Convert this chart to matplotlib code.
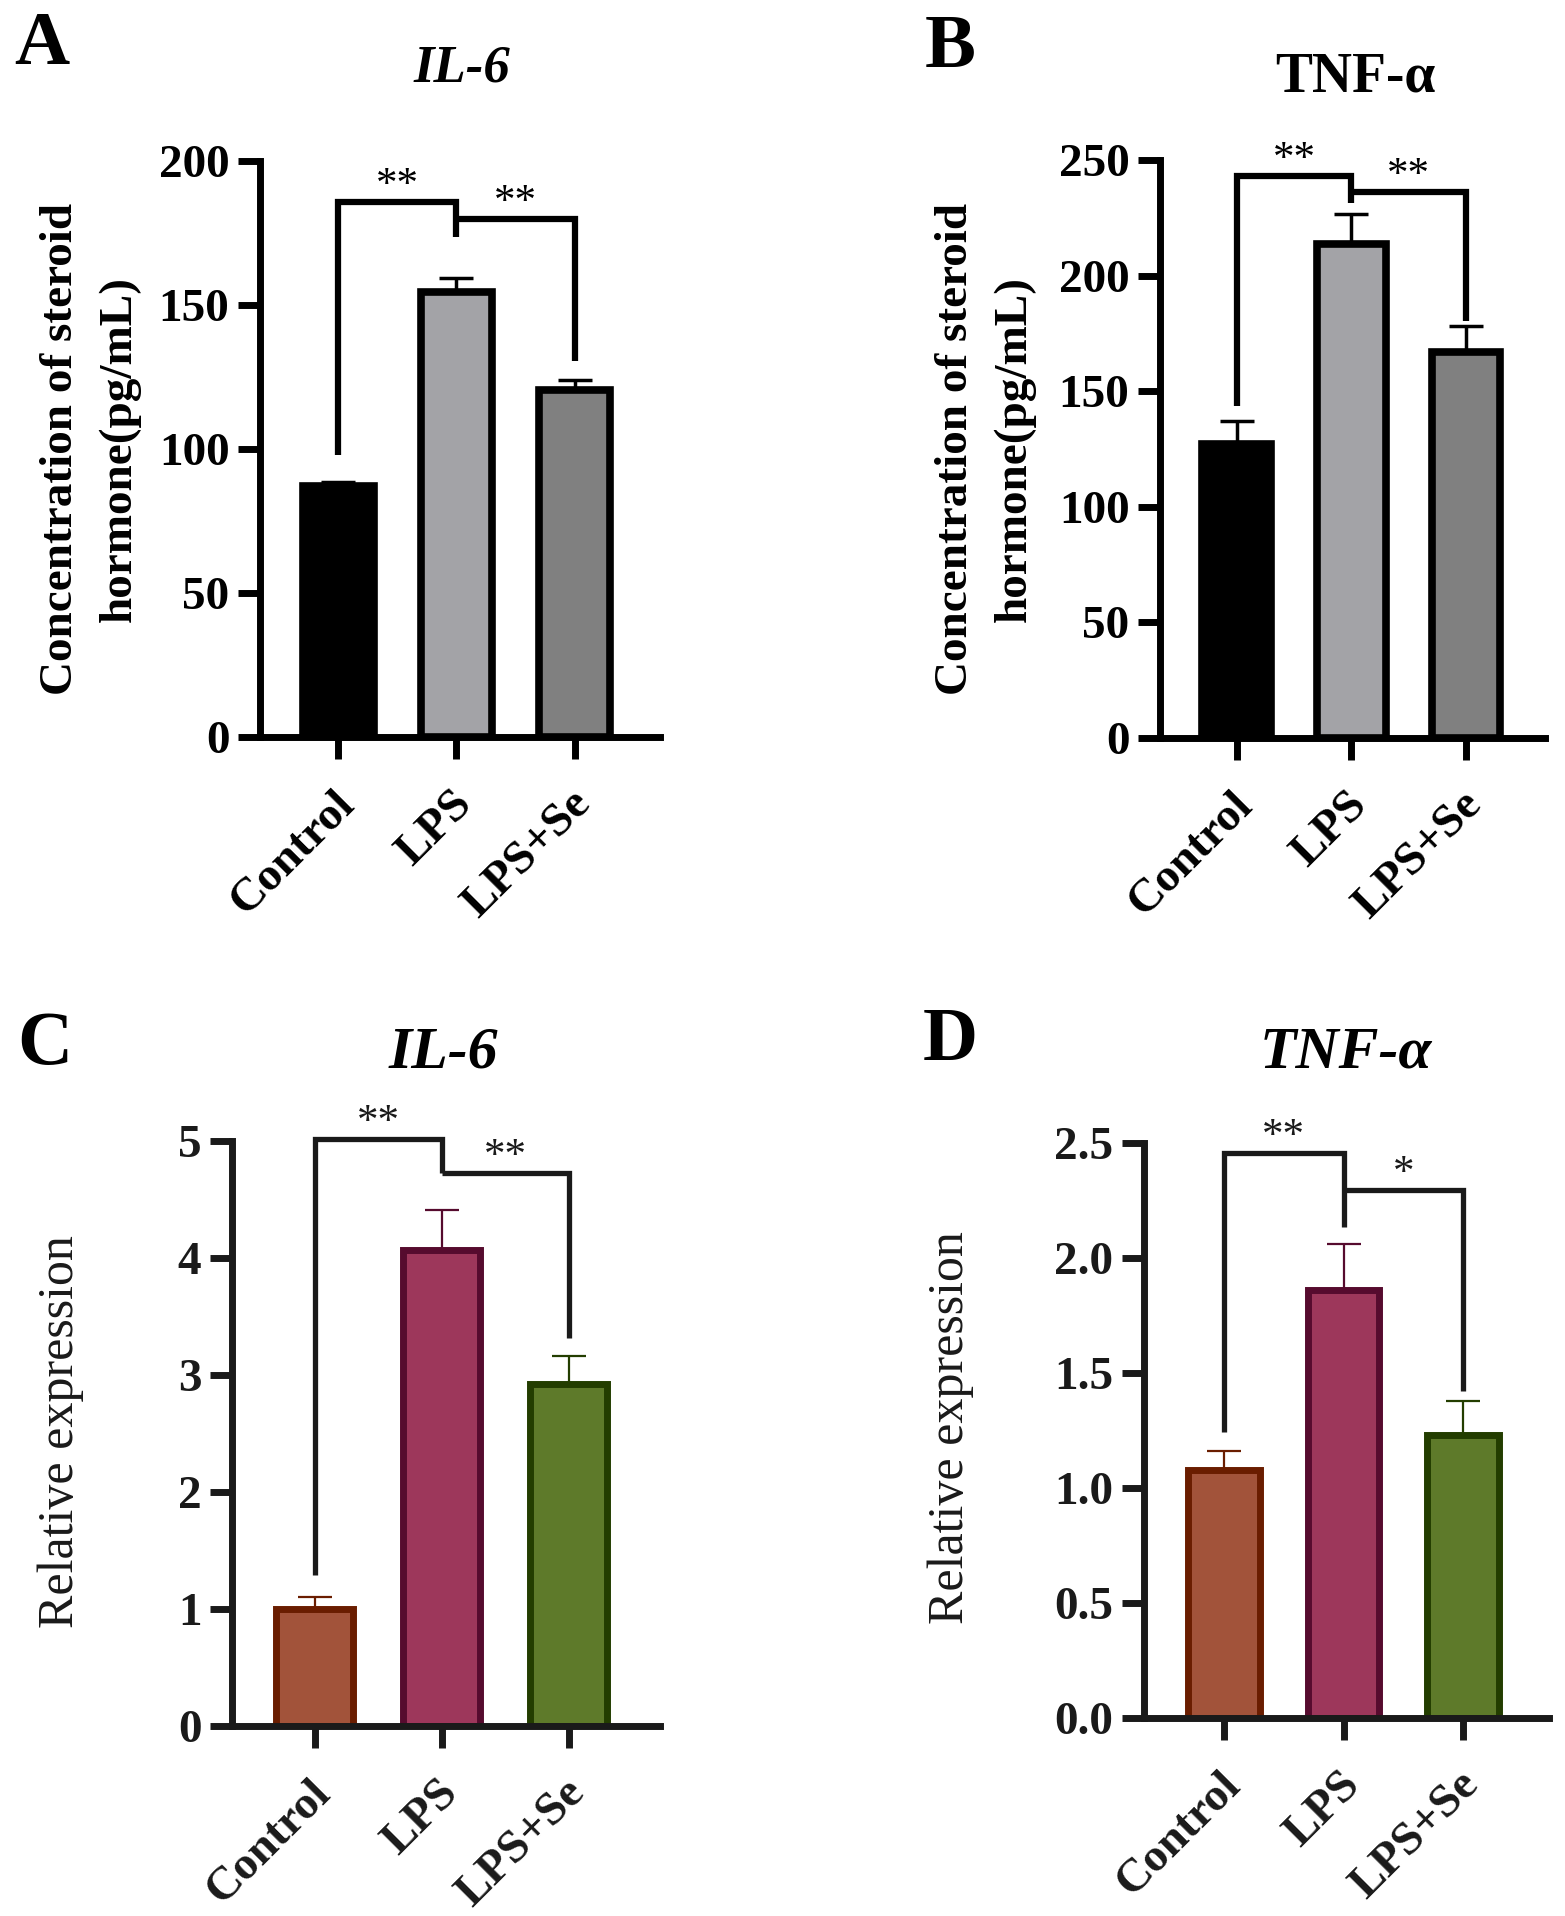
import matplotlib
matplotlib.use("Agg")
import matplotlib.pyplot as plt
from matplotlib.transforms import ScaledTranslation

plt.rcParams['font.family'] = ['Liberation Serif', 'DejaVu Serif']

# data
groups = ["Control", "LPS", "LPS+Se"]

il6_conc = [87.0, 154.5, 120.5]
il6_conc_err = [1.5, 5.0, 3.3]

tnf_conc = [127.0, 213.5, 167.0]
tnf_conc_err = [10.0, 13.0, 11.0]

il6_rel = [1.0, 4.07, 2.92]
il6_rel_err = [0.1, 0.34, 0.24]

tnf_rel = [1.08, 1.86, 1.23]
tnf_rel_err = [0.08, 0.20, 0.15]

# significance brackets: (left leg bottom, top, right leg bottom) and the 2nd bracket (level, right leg bottom)
sig_a = [(97.9, 185.9, 173.7), (180.0, 130.5)]
sig_b = [(143.8, 242.9, 231.6), (236.1, 180.5)]
sig_c = [(1.29, 5.02, 4.73), (4.73, 3.32)]
sig_d = [(1.242, 2.455, 2.136), (2.296, 1.42)]
stars_a = ["**", "**"]
stars_b = ["**", "**"]
stars_c = ["**", "**"]
stars_d = ["**", "*"]

W, H = 1565, 1916
fig = plt.figure(figsize=(W / 100, H / 100), dpi=100)


def px_axes(left, top, right, bottom):
    return fig.add_axes([left / W, 1 - bottom / H, (right - left) / W, (bottom - top) / H])


def fig_text(x, y, s, **kw):
    fig.text(x / W, 1 - y / H, s, **kw)


def panel(ax, vals, errs, fills, edges, errcols, ymax, yticks, yticklabels, xlim,
          sig, stars, axcol, bar_lw, err_lw, br_lw):
    x = range(len(vals))
    ax.bar(x, vals, width=0.6, color=fills, edgecolor=edges, linewidth=bar_lw, zorder=2)
    for i in x:
        ax.errorbar(i, vals[i], yerr=[[0], [errs[i]]], fmt='none', ecolor=errcols[i],
                    elinewidth=err_lw, capsize=12, capthick=err_lw, zorder=3)
    ax.set_xlim(*xlim)
    ax.set_ylim(0, ymax)
    ax.set_yticks(yticks)
    ax.set_yticklabels(yticklabels)
    ax.set_xticks(list(x))
    ax.set_xticklabels(groups, rotation=45, ha='right', va='top', rotation_mode='anchor')
    for s in ['top', 'right']:
        ax.spines[s].set_visible(False)
    for s in ['left', 'bottom']:
        ax.spines[s].set_linewidth(5)
        ax.spines[s].set_color(axcol)
        ax.spines[s].set_capstyle('projecting')
    ax.tick_params(axis='both', length=16, width=5, color=axcol, labelcolor=axcol,
                   labelsize=34)
    ax.tick_params(axis='y', pad=6)
    ax.tick_params(axis='x', pad=17)
    for lab in ax.get_xticklabels() + ax.get_yticklabels():
        lab.set_fontweight('bold')
    for lab in ax.get_xticklabels():
        lab.set_transform(lab.get_transform() + ScaledTranslation(-0.05, 0, fig.dpi_scale_trans))

    (lb, top1, rb1), (lvl2, rb2) = sig
    kw = dict(color=axcol, lw=br_lw, clip_on=False, solid_joinstyle='miter',
              solid_capstyle='butt', zorder=4)
    ax.plot([0, 0, 1, 1], [lb, top1, top1, rb1], **kw)
    ax.plot([1, 2, 2], [lvl2, lvl2, rb2], **kw)
    off = ScaledTranslation(0, 0.06, fig.dpi_scale_trans)
    ax.text(0.5, top1, stars[0], ha='center', va='baseline', fontsize=31, color=axcol,
            transform=ax.transData + off, clip_on=False)
    ax.text(1.5, lvl2, stars[1], ha='center', va='baseline', fontsize=31, color=axcol,
            transform=ax.transData + off, clip_on=False)


gray_fill = ['#000000', '#a3a3a7', '#808080']
gray_edge = ['#000000', '#000000', '#000000']
col_fill = ['#a2533a', '#9d375b', '#5e7a2a']
col_edge = ['#6a1d00', '#560b2e', '#233d00']
dark = '#1a1a1a'

axA = px_axes(260, 161, 660, 737)
panel(axA, il6_conc, il6_conc_err, gray_fill, gray_edge, gray_edge, 200,
      [0, 50, 100, 150, 200], ['0', '50', '100', '150', '200'], (-0.66, 2.72),
      sig_a, stars_a, 'black', 5.5, 2.5, 4.5)

axB = px_axes(1160, 160, 1545, 738)
panel(axB, tnf_conc, tnf_conc_err, gray_fill, gray_edge, gray_edge, 250,
      [0, 50, 100, 150, 200, 250], ['0', '50', '100', '150', '200', '250'], (-0.67, 2.69),
      sig_b, stars_b, 'black', 5.5, 2.5, 4.5)

axC = px_axes(232, 1141, 660, 1726)
panel(axC, il6_rel, il6_rel_err, col_fill, col_edge, col_edge, 5,
      [0, 1, 2, 3, 4, 5], ['0', '1', '2', '3', '4', '5'], (-0.65, 2.72),
      sig_c, stars_c, dark, 5, 1.6, 3.8)

axD = px_axes(1144, 1143, 1549, 1718)
panel(axD, tnf_rel, tnf_rel_err, col_fill, col_edge, col_edge, 2.5,
      [0, 0.5, 1.0, 1.5, 2.0, 2.5], ['0.0', '0.5', '1.0', '1.5', '2.0', '2.5'], (-0.67, 2.72),
      sig_d, stars_d, dark, 5, 1.6, 3.8)

# panel letters
for (x, y, s) in [(42, 64, 'A'), (950, 67, 'B'), (45, 1064, 'C'), (950, 1060, 'D')]:
    fig_text(x, y, s, ha='center', va='baseline', fontsize=55, fontweight='bold')

# titles
fig_text(462, 82, 'IL-6', ha='center', va='baseline', fontsize=38, fontweight='bold', style='italic')
fig_text(1355, 91, 'TNF-α', ha='center', va='baseline', fontsize=40, fontweight='bold')
fig_text(443, 1067, 'IL-6', ha='center', va='baseline', fontsize=43, fontweight='bold', style='italic')
fig_text(1346, 1068, 'TNF-α', ha='center', va='baseline', fontsize=43, fontweight='bold', style='italic')

# y labels
ykw = dict(rotation=90, rotation_mode='anchor', ha='center', va='baseline')
fig_text(72, 449, 'Concentration of steroid', fontsize=34, fontweight='bold', **ykw)
fig_text(131, 449, 'hormone(pg/mL)', fontsize=34, fontweight='bold', **ykw)
fig_text(967, 449, 'Concentration of steroid', fontsize=34, fontweight='bold', **ykw)
fig_text(1026, 449, 'hormone(pg/mL)', fontsize=34, fontweight='bold', **ykw)
fig_text(73, 1432, 'Relative expression', fontsize=36, color=dark, **ykw)
fig_text(963, 1428, 'Relative expression', fontsize=36, color=dark, **ykw)

fig.savefig('out.png', dpi=100)
